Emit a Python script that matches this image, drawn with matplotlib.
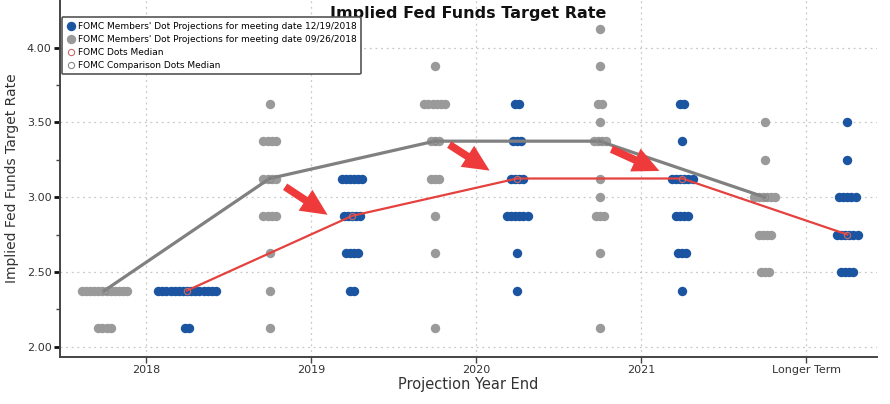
import matplotlib
matplotlib.use("Agg")
import matplotlib.pyplot as plt
import numpy as np
from matplotlib.patches import FancyArrowPatch

# projection columns
years = ['2018', '2019', '2020', '2021', 'Longer Term']

# dot counts per rate level
dec_dots = [
    {2.125: 2, 2.375: 15},
    {2.375: 2, 2.625: 4, 2.875: 5, 3.125: 6},
    {2.375: 1, 2.625: 1, 2.875: 6, 3.125: 4, 3.375: 3, 3.625: 2},
    {2.375: 1, 2.625: 3, 2.875: 4, 3.125: 6, 3.375: 1, 3.625: 2},
    {2.50: 4, 2.75: 6, 3.00: 5, 3.25: 1, 3.50: 1},
]
sep_dots = [
    {2.125: 4, 2.375: 12},
    {2.125: 1, 2.375: 1, 2.625: 1, 2.875: 4, 3.125: 4, 3.375: 4, 3.625: 1},
    {2.125: 1, 2.625: 1, 2.875: 1, 3.125: 3, 3.375: 3, 3.625: 6, 3.875: 1},
    {2.125: 1, 2.625: 1, 2.875: 3, 3.0: 1, 3.125: 1, 3.375: 4, 3.5: 1,
     3.625: 2, 3.875: 1, 4.125: 1},
    {2.50: 3, 2.75: 4, 3.00: 6, 3.25: 1, 3.50: 1},
]

# red arrows (tail -> tip), in data units
arrows = [
    ((0.83, 3.08), (1.115, 2.872)),
    ((1.824, 3.362), (2.097, 3.168)),
    ((2.806, 3.329), (3.127, 3.168)),
]

BLUE = '#1b55a2'
GREY = '#9a9a9a'
GREY_LINE = '#808080'
RED = '#e4413f'
STEP = 0.025


def dot_xy(columns, offset):
    xs, ys = [], []
    for i, col in enumerate(columns):
        for rate, n in col.items():
            for k in range(n):
                xs.append(i + offset + (k - (n - 1) / 2.0) * STEP)
                ys.append(rate)
    return xs, ys


def medians(columns):
    out = []
    for col in columns:
        vals = []
        for rate, n in col.items():
            vals += [rate] * n
        out.append(np.median(vals))
    return out


fig = plt.figure(figsize=(8.9, 4.04), dpi=100)
ax = fig.add_axes([0.0674, 0.1163, 0.918, 0.8837])

xd, yd = dot_xy(dec_dots, 0.25)
xs, ys = dot_xy(sep_dots, -0.25)
ax.scatter(xd, yd, s=46, color=BLUE, linewidths=0, zorder=3,
           label="FOMC Members' Dot Projections for meeting date 12/19/2018")
ax.scatter(xs, ys, s=46, color=GREY, linewidths=0, zorder=3,
           label="FOMC Members' Dot Projections for meeting date 09/26/2018")

xpos = np.arange(len(years))
med_dec = medians(dec_dots)
med_sep = medians(sep_dots)
ax.plot(xpos + 0.25, med_dec, color=RED, lw=1.6, zorder=4)
ax.plot(xpos - 0.25, med_sep, color=GREY_LINE, lw=2.3, zorder=4)
ax.plot(xpos + 0.25, med_dec, 'o', ms=4.5, mfc='none', mec='#c86a6a', mew=0.8,
        zorder=5, label='FOMC Dots Median')
ax.plot(xpos - 0.25, med_sep, 'o', ms=4.5, mfc='none', mec='#8a8a8a', mew=0.8,
        zorder=5, label='FOMC Comparison Dots Median')

for tail, tip in arrows:
    ar = FancyArrowPatch(tail, tip, arrowstyle='simple,head_length=1.9,head_width=1.8,tail_width=0.55',
                         mutation_scale=10, color='#ee3a3a', lw=0, zorder=6)
    ax.add_patch(ar)

ax.set_xlim(-0.52, 4.43)
ax.set_ylim(1.93, 4.32)
ax.set_xticks(xpos)
ax.set_xticklabels(years)
ax.set_yticks([2.0, 2.5, 3.0, 3.5, 4.0])
ax.set_yticklabels(['2.00', '2.50', '3.00', '3.50', '4.00'])
ax.set_yticks([2.25, 2.75, 3.25, 3.75], minor=True)

ax.grid(True, which='major', color='#c8c8c8', linestyle=(0, (1.5, 3)), lw=0.9)
for s in ['top', 'right']:
    ax.spines[s].set_visible(False)
for s in ['left', 'bottom']:
    ax.spines[s].set_color('#444444')
    ax.spines[s].set_linewidth(1.4)
ax.tick_params(axis='y', which='major', length=4, width=2, colors='#111111',
               labelsize=8, labelcolor='#333333', pad=2)
ax.tick_params(axis='y', which='minor', length=3, width=1, colors='#444444')
ax.tick_params(axis='x', length=4, width=1, colors='#444444', labelsize=8,
               labelcolor='#333333', pad=1.5)

ax.set_ylabel('Implied Fed Funds Target Rate', fontsize=10, color='#333333', labelpad=6)
ax.set_xlabel('Projection Year End', fontsize=10.5, color='#333333', labelpad=2)
ax.text(0.5, 0.963, 'Implied Fed Funds Target Rate', transform=ax.transAxes,
        ha='center', va='center', fontsize=11.5, fontweight='bold', color='#111111')

leg = ax.legend(loc='upper left', bbox_to_anchor=(0.002, 0.952), borderaxespad=0,
                fontsize=6.5, handlelength=1.0, handletextpad=0.3, labelspacing=0.45,
                borderpad=0.5, frameon=True, fancybox=True, framealpha=1,
                markerscale=1.0)
leg.get_frame().set_edgecolor('#555555')
leg.get_frame().set_linewidth(1.2)
leg.set_zorder(10)

fig.savefig('out.png', dpi=100)
